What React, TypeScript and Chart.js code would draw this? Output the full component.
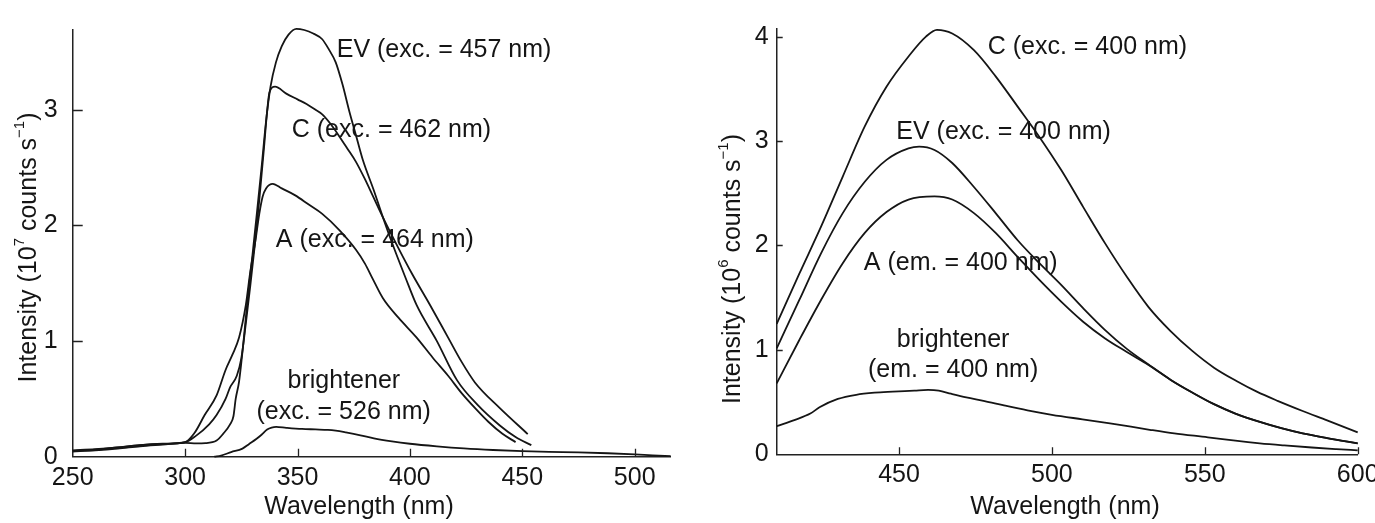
import React, { useEffect, useRef } from "react";
import { Chart, registerables } from "chart.js";

Chart.register(...registerables);

const FONT = '"Liberation Sans", Arial, Helvetica, sans-serif';
const INK = "#151515";

// ---------- Left panel: excitation spectra ----------
const leftXTicks = [250, 300, 350, 400, 450, 500];
const leftYTicks = [0, 1, 2, 3];

const leftEVnm = [250, 260, 270, 280, 290, 300, 305, 309, 314, 317, 320, 321.5, 322.5, 324, 326, 328, 330, 332, 334, 336, 338, 340.4, 343, 346, 349.5, 353, 357, 361, 364, 367, 370, 373, 376, 379, 384, 388, 393, 398, 403, 412, 421, 430, 440, 447, 454];
const leftEVint = [0.045, 0.055, 0.07, 0.09, 0.105, 0.12, 0.115, 0.117, 0.14, 0.2, 0.28, 0.35, 0.5, 0.65, 1.0, 1.4, 1.75, 2.12, 2.5, 2.9, 3.2, 3.41, 3.55, 3.65, 3.7, 3.69, 3.66, 3.61, 3.52, 3.41, 3.22, 2.99, 2.78, 2.57, 2.3, 2.07, 1.8, 1.55, 1.31, 1.0, 0.66, 0.45, 0.27, 0.17, 0.1];

const leftCnm = [250, 260, 270, 280, 290, 300, 304.8, 310.7, 314, 318, 320, 323, 325, 327, 329, 331, 333, 335, 336.5, 337.5, 340, 345, 350, 354, 358, 361, 365, 368.6, 372, 376, 380, 383.4, 388, 395, 401, 409, 417, 423, 429, 440, 452.4];
const leftCint = [0.055, 0.065, 0.08, 0.1, 0.112, 0.125, 0.18, 0.28, 0.36, 0.5, 0.6, 0.7, 0.85, 1.15, 1.48, 1.83, 2.22, 2.65, 2.99, 3.15, 3.2, 3.14, 3.09, 3.05, 3.0, 2.96, 2.87, 2.77, 2.67, 2.55, 2.4, 2.26, 2.07, 1.8, 1.58, 1.31, 1.03, 0.82, 0.64, 0.42, 0.196];

const leftAnm = [250, 260, 270, 280, 290, 300, 304, 308.7, 314, 318, 321, 324, 327, 329, 331.3, 333, 334.5, 336, 339, 343, 349, 355, 361, 368.6, 376, 380, 383.4, 388, 395, 403, 410, 417, 423, 429, 435, 441, 447];
const leftAint = [0.05, 0.06, 0.08, 0.1, 0.11, 0.126, 0.2, 0.36, 0.53, 0.75, 0.88, 1.03, 1.31, 1.6, 1.87, 2.1, 2.25, 2.32, 2.36, 2.32, 2.26, 2.18, 2.1, 1.96, 1.79, 1.67, 1.54, 1.37, 1.2, 1.03, 0.86, 0.7, 0.55, 0.42, 0.3, 0.2, 0.126];

const leftBnm = [313, 316, 320.5, 325.5, 328.5, 331.8, 334, 336.5, 338.5, 340.5, 345, 352, 358, 363.5, 367, 371.5, 378, 384, 392, 400, 412, 424, 437, 450, 462, 475, 488, 500, 508, 516];
const leftBint = [0, 0.01, 0.04, 0.07, 0.11, 0.155, 0.19, 0.235, 0.252, 0.258, 0.25, 0.24, 0.236, 0.232, 0.225, 0.21, 0.185, 0.158, 0.132, 0.112, 0.09, 0.072, 0.058, 0.048, 0.042, 0.038, 0.03, 0.02, 0.012, 0.005];

const leftLabels = ["EV (exc. = 457 nm)", "C (exc. = 462 nm)", "A (exc. = 464 nm)", "brightener", "(exc. = 526 nm)"];
const leftLabelNm = [415.2, 391.8, 384.4, 370.6, 370.5];
const leftLabelInt = [3.518, 2.82, 1.871, 0.657, 0.383];

// ---------- Right panel: emission spectra ----------
const rightXTicks = [450, 500, 550, 600];
const rightYTicks = [0, 1, 2, 3, 4];

const rightCnm = [410, 417.4, 424.5, 431.6, 438.8, 445.9, 453.1, 458.8, 462.4, 467.4, 474.5, 481.6, 488.8, 495.9, 503.1, 510.2, 517.4, 524.5, 531.6, 538.8, 545.9, 553, 560.5, 567, 574, 582, 590, 600];
const rightCint = [1.25, 1.73, 2.18, 2.66, 3.14, 3.52, 3.81, 4.0, 4.065, 4.03, 3.87, 3.62, 3.33, 3.04, 2.72, 2.37, 2.02, 1.7, 1.41, 1.18, 0.99, 0.83, 0.7, 0.6, 0.51, 0.415, 0.325, 0.21];

const rightEVnm = [410, 417.4, 424.5, 431.6, 438.8, 445.9, 453.1, 456.6, 461.6, 467.4, 474.5, 481.6, 488.8, 495.9, 503.1, 510.2, 517.4, 524.5, 531.6, 539, 546, 553, 560, 568, 575, 582, 590, 600];
const rightEVint = [1.015, 1.478, 1.925, 2.31, 2.61, 2.82, 2.93, 2.947, 2.915, 2.79, 2.56, 2.31, 2.05, 1.83, 1.62, 1.4, 1.19, 1.01, 0.86, 0.71, 0.59, 0.48, 0.39, 0.31, 0.25, 0.2, 0.155, 0.105];

const rightAnm = [410, 417.4, 424.5, 431.6, 438.8, 445.9, 453.1, 461.6, 467.4, 474.5, 481.6, 488.8, 495.9, 503.1, 510.2, 517.4, 524.5, 531.6, 539, 546, 553, 560, 568, 575, 582, 590, 600];
const rightAint = [0.68, 1.095, 1.478, 1.83, 2.12, 2.32, 2.44, 2.47, 2.44, 2.31, 2.12, 1.89, 1.67, 1.46, 1.27, 1.11, 0.98, 0.855, 0.71, 0.59, 0.48, 0.39, 0.31, 0.25, 0.2, 0.155, 0.105];

const rightBnm = [410, 416, 421, 424, 430, 436, 442, 448, 455, 459.5, 463, 467, 472, 478, 484, 492, 500, 510, 519, 532, 540, 551, 560, 568, 576, 585, 593, 600];
const rightBint = [0.27, 0.33, 0.39, 0.45, 0.53, 0.57, 0.59, 0.6, 0.61, 0.617, 0.61, 0.58, 0.545, 0.51, 0.47, 0.42, 0.378, 0.335, 0.297, 0.235, 0.2, 0.163, 0.13, 0.105, 0.085, 0.065, 0.05, 0.038];

const rightLabels = ["C (exc. = 400 nm)", "EV (exc. = 400 nm)", "A (em. = 400 nm)", "brightener", "(em. = 400 nm)"];
const rightLabelNm = [511.6, 484.2, 470.2, 467.7, 467.7];
const rightLabelInt = [3.904, 3.09, 1.83, 1.095, 0.807];

const xTitle = "Wavelength (nm)";

type Seg = { t: string; sup?: boolean };
const leftYTitle: Seg[] = [{ t: "Intensity (10" }, { t: "7", sup: true }, { t: " counts s" }, { t: "\u22121", sup: true }, { t: ")" }];
const rightYTitle: Seg[] = [{ t: "Intensity (10" }, { t: "6", sup: true }, { t: " counts s" }, { t: "\u22121", sup: true }, { t: ")" }];

const pairs = (xs: number[], ys: number[]) => xs.map((x, i) => ({ x, y: ys[i] }));

const innerTicks = {
  id: "innerTicks",
  afterDraw(chart: any, _args: any, opts: any) {
    const { ctx, chartArea } = chart;
    const xs = chart.scales.x;
    const ys = chart.scales.y;
    ctx.save();
    ctx.strokeStyle = "#222";
    ctx.lineWidth = 1.3;
    ctx.beginPath();
    for (const v of opts.xTicks as number[]) {
      if (v === xs.min) continue;
      const px = Math.round(xs.getPixelForValue(v)) + 0.5;
      ctx.moveTo(px, chartArea.bottom);
      ctx.lineTo(px, chartArea.bottom - opts.xLen);
    }
    for (const v of opts.yTicks as number[]) {
      if (v === ys.min) continue;
      const py = Math.round(ys.getPixelForValue(v)) + 0.5;
      ctx.moveTo(chartArea.left, py);
      ctx.lineTo(chartArea.left + opts.yLen, py);
    }
    ctx.stroke();
    ctx.restore();
  },
};

const curveLabels = {
  id: "curveLabels",
  afterDatasetsDraw(chart: any, _args: any, opts: any) {
    const { ctx } = chart;
    const xs = chart.scales.x;
    const ys = chart.scales.y;
    ctx.save();
    ctx.fillStyle = INK;
    ctx.font = `25px ${FONT}`;
    ctx.textAlign = "center";
    ctx.textBaseline = "middle";
    (opts.texts as string[]).forEach((t, i) => {
      ctx.fillText(t, xs.getPixelForValue(opts.nm[i]), ys.getPixelForValue(opts.val[i]));
    });
    ctx.restore();
  },
};

const axisTitles = {
  id: "axisTitles",
  afterDraw(chart: any, _args: any, opts: any) {
    const { ctx } = chart;
    ctx.save();
    ctx.fillStyle = INK;
    ctx.textBaseline = "middle";
    ctx.font = `25px ${FONT}`;
    ctx.textAlign = "center";
    ctx.fillText(opts.xText, opts.xPos[0], opts.xPos[1]);
    const segs: Seg[] = opts.ySegs;
    const widths = segs.map((s) => {
      ctx.font = s.sup ? `15px ${FONT}` : `25px ${FONT}`;
      return ctx.measureText(s.t).width;
    });
    const total = widths.reduce((a, b) => a + b, 0);
    ctx.translate(opts.yPos[0], opts.yPos[1]);
    ctx.rotate(-Math.PI / 2);
    ctx.textAlign = "left";
    let x = -total / 2;
    segs.forEach((s, i) => {
      ctx.font = s.sup ? `15px ${FONT}` : `25px ${FONT}`;
      ctx.fillText(s.t, x, s.sup ? -9 : 0);
      x += widths[i];
    });
    ctx.restore();
  },
};

function makeConfig(p: {
  series: { nm: number[]; val: number[] }[];
  xMin: number; xMax: number; yMin: number; yMax: number;
  xTicks: number[]; yTicks: number[];
  yAxisWidth: number; xAxisHeight: number;
  padding: { left: number; right: number; top: number; bottom: number };
  yLabelPad: number; xLabelPad: number;
  xLen: number; yLen: number;
  labels: string[]; labelNm: number[]; labelVal: number[];
  xTitlePos: number[]; yTitlePos: number[]; ySegs: Seg[];
}): any {
  return {
    type: "line",
    data: {
      datasets: p.series.map((s) => ({
        data: pairs(s.nm, s.val),
        borderColor: INK,
        borderWidth: 1.8,
        pointRadius: 0,
        fill: false,
        cubicInterpolationMode: "monotone",
        clip: false,
      })),
    },
    options: {
      responsive: false,
      animation: false,
      events: [],
      layout: { padding: p.padding },
      plugins: {
        legend: { display: false },
        tooltip: { enabled: false },
        innerTicks: { xTicks: p.xTicks, yTicks: p.yTicks, xLen: p.xLen, yLen: p.yLen },
        curveLabels: { texts: p.labels, nm: p.labelNm, val: p.labelVal },
        axisTitles: { xText: xTitle, xPos: p.xTitlePos, yPos: p.yTitlePos, ySegs: p.ySegs },
      },
      scales: {
        x: {
          type: "linear",
          min: p.xMin,
          max: p.xMax,
          grid: { display: false, drawTicks: false, tickLength: 0 },
          border: { display: true, color: "#222", width: 1.5 },
          ticks: {
            padding: p.xLabelPad,
            color: INK,
            font: { family: FONT, size: 25 },
            maxRotation: 0,
            autoSkip: false,
          },
          afterBuildTicks: (scale: any) => {
            scale.ticks = p.xTicks.map((v) => ({ value: v }));
          },
          afterFit: (scale: any) => {
            scale.height = p.xAxisHeight;
          },
        },
        y: {
          type: "linear",
          min: p.yMin,
          max: p.yMax,
          grid: { display: false, drawTicks: false, tickLength: 0 },
          border: { display: true, color: "#222", width: 1.5 },
          ticks: {
            padding: p.yLabelPad,
            color: INK,
            font: { family: FONT, size: 25 },
            autoSkip: false,
          },
          afterBuildTicks: (scale: any) => {
            scale.ticks = p.yTicks.map((v) => ({ value: v }));
          },
          afterFit: (scale: any) => {
            scale.width = p.yAxisWidth;
          },
        },
      },
    },
    plugins: [innerTicks, curveLabels, axisTitles],
  };
}

export default function App() {
  const leftRef = useRef<HTMLCanvasElement>(null);
  const rightRef = useRef<HTMLCanvasElement>(null);

  useEffect(() => {
    const left = new Chart(
      leftRef.current as HTMLCanvasElement,
      makeConfig({
        series: [
          { nm: leftEVnm, val: leftEVint },
          { nm: leftCnm, val: leftCint },
          { nm: leftAnm, val: leftAint },
          { nm: leftBnm, val: leftBint },
        ],
        xMin: 250, xMax: 516, yMin: 0, yMax: 3.69,
        xTicks: leftXTicks, yTicks: leftYTicks,
        yAxisWidth: 72.7, xAxisHeight: 66.3,
        padding: { left: 0, right: 19.3, top: 16, bottom: 0 },
        yLabelPad: 15, xLabelPad: 6,
        xLen: 8, yLen: 10,
        labels: leftLabels, labelNm: leftLabelNm, labelVal: leftLabelInt,
        xTitlePos: [359, 507.5], yTitlePos: [29, 247.5], ySegs: leftYTitle,
      })
    );
    const right = new Chart(
      rightRef.current as HTMLCanvasElement,
      makeConfig({
        series: [
          { nm: rightCnm, val: rightCint },
          { nm: rightEVnm, val: rightEVint },
          { nm: rightAnm, val: rightAint },
          { nm: rightBnm, val: rightBint },
        ],
        xMin: 410, xMax: 600, yMin: 0, yMax: 4.08,
        xTicks: rightXTicks, yTicks: rightYTicks,
        yAxisWidth: 86.7, xAxisHeight: 68.7,
        padding: { left: 0, right: 37.3, top: 28.3, bottom: 0 },
        yLabelPad: 8, xLabelPad: 6,
        xLen: 7, yLen: 6,
        labels: rightLabels, labelNm: rightLabelNm, labelVal: rightLabelInt,
        xTitlePos: [375, 507.5], yTitlePos: [43, 269], ySegs: rightYTitle,
      })
    );
    return () => {
      left.destroy();
      right.destroy();
    };
  }, []);

  return (
    <div
      style={{
        position: "fixed",
        left: 0,
        top: 0,
        width: 1375,
        height: 523,
        overflow: "hidden",
        background: "#fff",
      }}
    >
      <canvas ref={leftRef} width={690} height={523} style={{ position: "absolute", left: 0, top: 0 }} />
      <canvas ref={rightRef} width={705} height={523} style={{ position: "absolute", left: 690, top: 0 }} />
    </div>
  );
}
